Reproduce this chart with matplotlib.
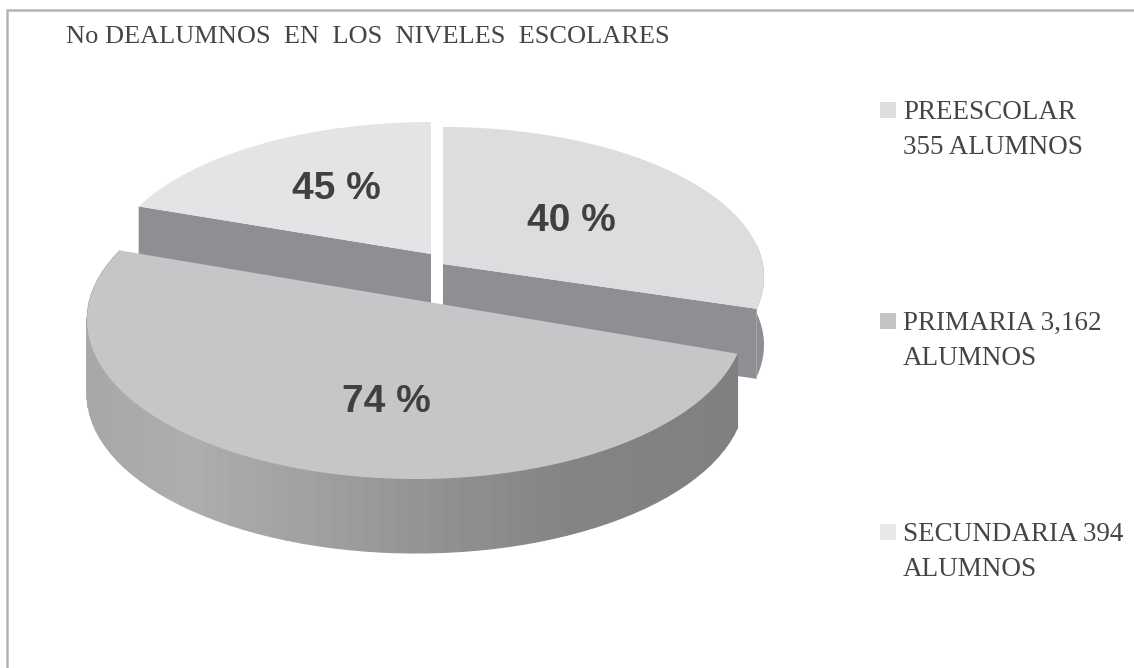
import numpy as np
import matplotlib
matplotlib.use("Agg")
import matplotlib.pyplot as plt
from matplotlib.patches import Rectangle

# datos
categorias = ["PREESCOLAR", "PRIMARIA", "SECUNDARIA"]
alumnos = [355, 3162, 394]
etiquetas_pct = ["40 %", "74 %", "45 %"]
# parte del circulo que ocupa cada rebanada en el dibujo (no coincide con los %)
partes_circulo = [28.4, 53.8, 17.8]
leyenda = [["PREESCOLAR", "355 ALUMNOS"],
           ["PRIMARIA 3,162", "ALUMNOS"],
           ["SECUNDARIA 394", "ALUMNOS"]]
titulo = "No DEALUMNOS  EN  LOS  NIVELES  ESCOLARES"

# estilo y posicion (pixeles de la imagen)
color_tapa = ["#dcddde", "#c5c6c8", "#e3e4e6"]
color_leyenda = ["#dcddde", "#c3c4c6", "#e6e7e8"]
color_corte = "#8e8f92"
color_texto = "#454545"
centros = [(443, 277), (416, 320), (431, 272)]
radios = [(321, 150), (329, 159), (325, 150)]
vertices = [(443, 264), None, (431, 254)]
pos_pct = [(571, 231), (386, 412), (336, 199)]
y_leyenda = [119, 330, 541]
grosor = 70
grosor_primaria = 74

plt.rcParams["font.family"] = ["Liberation Serif", "DejaVu Serif"]


def punto_elipse(i, ang):
    t = np.radians(ang)
    return centros[i][0] + radios[i][0] * np.cos(t), centros[i][1] - radios[i][1] * np.sin(t)


def gris_pared(x):
    # la pared exterior se oscurece hacia la derecha
    g = np.interp(x, [87, 190, 300, 420, 560, 740], [168, 174, 162, 148, 133, 128])
    return "#%02x%02x%02x" % (int(g), int(g), int(g) + 2)


fig = plt.figure(figsize=(11.34, 6.68), dpi=100)
ax = fig.add_axes([0, 0, 1, 1])
ax.set_xlim(0, 1134)
ax.set_ylim(668, 0)
ax.axis("off")

# marco (solo arriba e izquierda)
ax.plot([7, 7, 1134], [668, 10, 10], color="#b4b4b4", lw=1.8, solid_joinstyle="miter")

# angulos de cada rebanada, sentido horario desde las 12
spans = np.array(partes_circulo) / sum(partes_circulo) * 360
ini = 90 - np.concatenate([[0], np.cumsum(spans)[:-1]])
fin = ini - spans

# rebanadas de atras: secundaria y preescolar
for i in [2, 0]:
    t = np.linspace(ini[i], fin[i], 80)
    x, y = punto_elipse(i, t)
    vx, vy = vertices[i]
    if i == 0:
        # pared exterior y corte
        ax.fill(np.r_[x[-20:], x[-20:][::-1]], np.r_[y[-20:], y[-20:][::-1] + grosor - 2],
                color=color_corte, lw=0)
        ax.fill([vx, x[-1], x[-1], vx], [vy, y[-1], y[-1] + grosor, vy + grosor],
                color=color_corte, lw=0)
    else:
        ax.fill([vx, x[0], x[0], vx], [vy, y[0], y[0] + grosor, vy + grosor],
                color=color_corte, lw=0)
    ax.fill(np.r_[vx, x], np.r_[vy, y], color=color_tapa[i], lw=0)

# primaria: pared exterior por tiras, luego la tapa
t = np.linspace(ini[1], fin[1], 70)
x, y = punto_elipse(1, t)
for k in range(len(t) - 1):
    c = gris_pared((x[k] + x[k + 1]) / 2)
    ax.fill([x[k], x[k + 1], x[k + 1], x[k]],
            [y[k], y[k + 1], y[k + 1] + grosor_primaria, y[k] + grosor_primaria],
            facecolor=c, edgecolor=c, lw=0.8)
ax.fill(x, y, color=color_tapa[1], lw=0)

for i, et in enumerate(etiquetas_pct):
    ax.text(pos_pct[i][0], pos_pct[i][1], et, family="Liberation Sans", fontweight="bold",
            fontsize=28, color="#404040", ha="center", va="baseline")

ax.text(66, 43, titulo, fontsize=19, color=color_texto, va="baseline")

for i, lineas in enumerate(leyenda):
    ax.add_patch(Rectangle((880, y_leyenda[i] - 17), 16, 16, color=color_leyenda[i], lw=0))
    ax.text(903, y_leyenda[i], lineas[0], fontsize=19.5, color=color_texto, va="baseline")
    ax.text(903, y_leyenda[i] + 35, lineas[1], fontsize=19.5, color=color_texto, va="baseline")

fig.savefig("out.png", dpi=100)
